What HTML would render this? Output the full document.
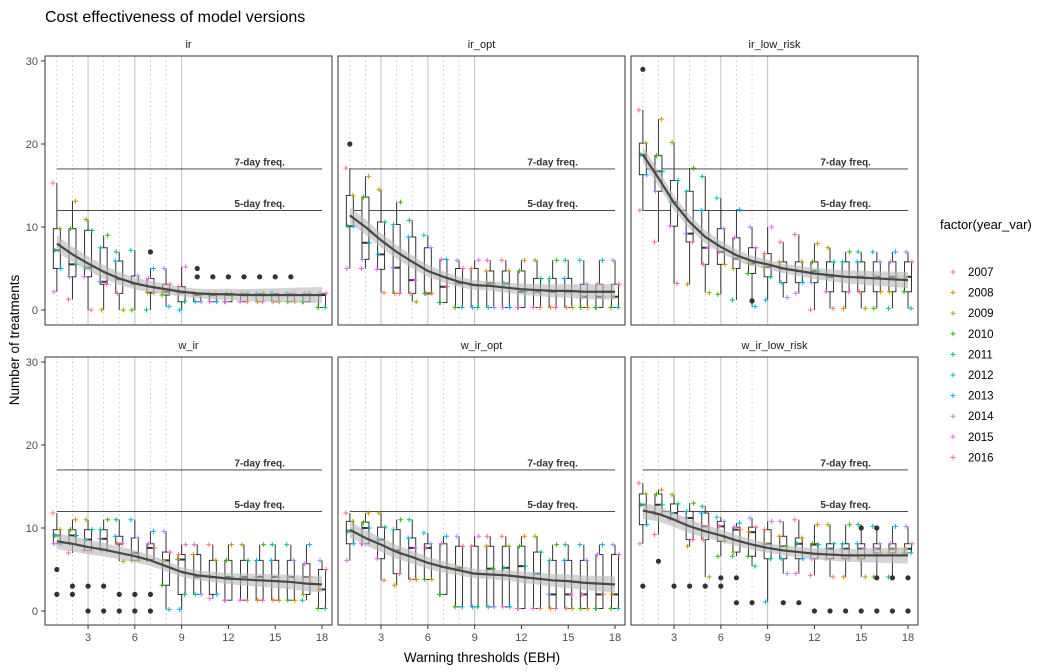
<!DOCTYPE html>
<html><head><meta charset="utf-8">
<style>
html,body{margin:0;padding:0;background:#fff;}
svg{display:block;font-family:"Liberation Sans",Arial,sans-serif;}
</style></head>
<body>
<svg id="chart" width="1056" height="672" xmlns="http://www.w3.org/2000/svg">
<text x="45" y="22" font-size="16" fill="#000">Cost effectiveness of model versions</text>
<text x="482" y="662" font-size="13.5" text-anchor="middle" fill="#000">Warning thresholds (EBH)</text>
<text x="19" y="340" font-size="13.5" text-anchor="middle" transform="rotate(-90 19 340)" fill="#000">Number of treatments</text>
<g id="legend"></g>
<g id="panels"></g>
</svg>
<script>
const NS="http://www.w3.org/2000/svg";
const panelNames=["ir","ir_opt","ir_low_risk","w_ir","w_ir_opt","w_ir_low_risk"];
const thresholds=[1,2,3,4,5,6,7,8,9,10,11,12,13,14,15,16,17,18];
const xTicks=[3,6,9,12,15,18];
const yTicks=[0,10,20,30];
const years=["2007","2008","2009","2010","2011","2012","2013","2014","2015","2016"];
const yearColors=["#F8766D","#D89000","#A3A500","#39B600","#00BF7D","#00BFC4","#00B0F6","#9590FF","#E76BF3","#FF62BC"];
const freqLevels=[17,12];
const freqLabels=["7-day freq.","5-day freq."];

const q3_ir=[9.8,9.8,9.6,7.5,5.9,4.1,3.8,3.1,2.8,2.0,2.0,2.0,2.0,2.0,2.0,2.0,2.0,2.0];
const q1_ir=[5.0,4.0,4.0,3.1,2.0,3.1,2.1,1.8,1.0,1.0,1.0,1.0,1.0,1.0,1.0,1.0,1.0,0.3];
const med_ir=[7.2,5.5,5.1,3.4,3.7,3.2,2.1,2.2,2.1,1.8,1.8,1.8,1.8,1.8,1.8,1.8,1.8,1.8];
const hi_ir=[15.3,13.1,10.9,9.0,7.0,7.2,5.0,5.0,5.2,2.0,2.0,2.0,2.0,2.0,2.0,2.0,2.0,2.0];
const lo_ir=[2.2,1.3,0,0,0,0,0,0.4,0,1.0,1.0,1.0,1.0,1.0,1.0,1.0,1.0,0.3];
const fit_ir=[8.0,6.7,5.6,4.6,3.8,3.2,2.8,2.5,2.2,2.0,1.9,1.9,1.8,1.8,1.8,1.8,1.8,1.8];
const out_ir=[[7,7],[10,5],[10,4],[11,4],[12,4],[13,4],[14,4],[15,4],[16,4]];

const q3_opt=[13.8,13.6,10.6,10.3,8.8,7.5,6.1,5.0,5.0,4.7,4.7,4.7,3.8,3.8,3.8,3.1,3.1,3.1];
const q1_opt=[10.1,6.1,4.9,2.0,2.0,2.0,0.9,0.3,0.3,0.3,0.3,0.3,0.3,0.3,0.3,0.3,0.3,0.3];
const med_opt=[10.1,8.1,6.7,5.1,3.6,2.0,2.8,3.2,3.0,3.2,3.2,2.2,2.2,2.2,2.2,1.6,1.6,1.6];
const hi_opt=[17.1,16.1,14.5,13.0,10.8,9.0,6.1,6.0,6.0,6.0,6.0,6.0,6.0,6.0,6.0,6.0,6.0,6.0];
const lo_opt=[5.0,5.0,2.1,2.0,1.0,2.0,0.9,0.3,0.3,0.3,0.3,0.3,0.3,0.3,0.3,0.3,0.3,0.3];
const fit_opt=[11.4,10.0,8.4,7.0,5.8,4.7,4.0,3.4,3.0,2.9,2.7,2.5,2.4,2.3,2.3,2.2,2.2,2.2];
const out_opt=[[1,20]];

const q3_low=[20.1,18.6,15.6,14.3,12.0,9.8,8.7,7.5,6.8,5.8,5.8,5.8,5.8,5.8,5.8,5.8,5.8,5.8];
const q1_low=[16.3,14.3,10.1,8.2,5.5,5.5,5.0,4.4,4.0,3.3,3.3,3.3,2.2,2.2,2.2,2.2,2.2,2.2];
const med_low=[18.7,16.7,13.0,9.2,7.5,7.0,6.2,5.6,5.2,5.0,4.7,4.7,4.0,4.0,4.0,4.0,4.0,4.0];
const hi_low=[24.1,23.0,20.2,17.1,16.1,13.5,12.1,10.0,10.0,8.2,9.1,8.0,7.5,7.0,7.0,7.0,7.0,7.0];
const lo_low=[12.0,8.2,3.2,3.1,2.1,1.9,1.2,0.4,1.2,1.5,2.0,0,0.2,0.2,0.2,0.2,0.2,0.2];
const fit_low=[18.7,15.9,12.9,10.6,8.8,7.6,6.6,5.9,5.5,5.0,4.7,4.4,4.2,4.0,3.9,3.8,3.7,3.6];
const out_low=[[1,29],[8,1.1]];

const q3_wir=[9.8,9.8,9.8,9.8,9.0,8.8,8.1,7.1,6.8,6.8,6.1,6.1,6.1,6.1,6.1,6.1,5.7,5.0];
const q1_wir=[8.1,8.1,7.3,7.3,8.1,6.1,6.2,3.1,2.0,2.0,2.0,1.3,1.3,1.3,1.3,1.3,2.0,0.3];
const med_wir=[9.1,9.1,8.6,8.7,8.1,7.0,7.6,6.1,6.2,4.1,4.1,4.1,4.1,4.1,4.1,4.1,4.1,2.6];
const hi_wir=[11.8,11.0,11.0,11.0,11.0,11.0,9.6,9.6,8.0,8.0,8.0,8.0,8.0,8.0,8.0,8.0,8.0,6.1];
const lo_wir=[8.1,7.0,7.3,7.3,6.0,6.1,6.2,0.2,0.2,2.0,1.5,1.3,1.3,1.3,1.3,1.3,1.3,0.3];
const fit_wir=[8.4,8.1,7.7,7.4,7.0,6.6,6.1,5.4,4.7,4.3,4.1,3.9,3.8,3.7,3.6,3.5,3.3,3.2];
const out_wir=[[1,5],[1,2],[2,3],[2,2],[3,3],[3,0],[4,3],[4,0],[5,2],[5,0],[6,2],[6,0],[7,2],[7,0]];

const q3_wopt=[10.8,10.7,10.1,9.8,8.8,8.1,8.1,7.8,7.8,7.8,7.8,7.8,7.1,6.1,6.1,6.1,6.8,6.8];
const q1_wopt=[8.1,8.1,6.3,4.5,3.8,3.8,2.0,0.5,0.5,0.5,0.5,0.3,0.3,0.3,0.3,0.3,0.3,0.3];
const med_wopt=[9.6,10.0,8.6,7.3,7.6,7.6,5.3,5.2,4.5,5.1,5.2,5.4,4.5,2.0,2.0,2.0,2.0,2.0];
const hi_wopt=[11.8,11.8,11.8,11.0,11.0,9.4,9.0,9.0,9.0,9.0,9.0,9.0,9.0,8.0,8.0,8.0,8.0,8.0];
const lo_wopt=[6.1,8.1,3.7,3.1,3.8,3.8,2.0,0.5,0.5,0.5,0.5,0.3,0.3,0.3,0.3,0.3,0.3,0.3];
const fit_wopt=[9.8,8.8,8.0,7.1,6.5,5.8,5.3,4.9,4.5,4.4,4.3,4.1,3.9,3.7,3.6,3.4,3.3,3.2];
const out_wopt=[];

const q3_wlow=[14.1,14.1,12.9,12.0,11.8,10.8,10.1,10.1,9.8,9.0,8.8,8.1,8.1,8.1,8.1,8.1,8.1,8.1];
const q1_wlow=[10.4,11.6,11.0,8.6,8.6,8.4,7.1,6.6,6.3,6.3,6.3,6.3,6.3,6.3,6.3,7.0,7.0,7.0];
const med_wlow=[12.8,12.8,11.8,11.2,10.2,10.2,9.8,9.5,8.1,7.8,8.1,8.0,7.5,7.5,7.5,7.5,7.5,7.5];
const hi_wlow=[15.4,14.6,14.0,13.0,12.6,11.3,10.6,11.2,10.8,10.8,11.0,10.4,10.4,10.4,10.4,10.2,10.2,10.2];
const lo_wlow=[8.1,9.2,11.0,7.8,4.1,6.6,6.6,5.4,1.1,4.5,4.5,4.3,4.1,4.1,4.1,4.1,4.1,7.0];
const fit_wlow=[12.1,11.7,11.0,10.2,9.6,9.1,8.5,8.0,7.6,7.3,7.1,6.9,6.8,6.7,6.7,6.7,6.7,6.7];
const out_wlow=[[1,3],[2,6],[3,3],[4,3],[5,3],[6,4],[6,3],[7,4],[7,1],[8,1],[10,1],[11,1],[12,0],[13,0],[14,0],[15,0],[16,0],[17,0],[18,0],[16,4],[17,4],[18,4],[15,10],[16,10]];

const panelData=[
 [q3_ir,q1_ir,med_ir,hi_ir,lo_ir,fit_ir,out_ir],
 [q3_opt,q1_opt,med_opt,hi_opt,lo_opt,fit_opt,out_opt],
 [q3_low,q1_low,med_low,hi_low,lo_low,fit_low,out_low],
 [q3_wir,q1_wir,med_wir,hi_wir,lo_wir,fit_wir,out_wir],
 [q3_wopt,q1_wopt,med_wopt,hi_wopt,lo_wopt,fit_wopt,out_wopt],
 [q3_wlow,q1_wlow,med_wlow,hi_wlow,lo_wlow,fit_wlow,out_wlow]
];

const root=document.getElementById('panels');
function el(tag,attrs,parent){const e=document.createElementNS(NS,tag);for(const k in attrs)e.setAttribute(k,attrs[k]);(parent||root).appendChild(e);return e;}
function cross(g,x,y,c){
  const p=el('path',{d:`M${x-2.5},${y}h5M${x},${y-2.5}v5`,stroke:c,'stroke-width':1,fill:'none'},g);
  
  
}

const PW=287, XMIN=0.24, XMAX=18.64, PX=[45,338,631], PYTOP=[56,357], PH=[269,268], Y0=[310,611], YU=8.3;
const jit=[-4,3,-2,4,-3];

panelNames.forEach((name,pi)=>{
  const col=pi%3,row=Math.floor(pi/3);
  const left=PX[col],top=PYTOP[row],h=PH[row];
  const xs=v=>left+(v-XMIN)/(XMAX-XMIN)*PW;
  const ys=v=>Y0[row]-v*YU;
  const g=el('g',{});
  
  
  const strip=el('text',{x:left+PW/2,y:top-8,'font-size':11,'text-anchor':'middle',fill:'#1a1a1a'},g);
  strip.textContent=name;
  
  
  for(let t=1;t<=9;t++){
    const gl=el('line',{x1:xs(t),x2:xs(t),y1:top,y2:top+h,stroke:'#c0c0c0','stroke-width':t%3===0?1:0.8,'stroke-dasharray':t%3===0?'none':'1.5,3'},g);
    
    
  }
  freqLevels.forEach((lv,i)=>{
    const fl=el('line',{x1:xs(1),x2:xs(18),y1:ys(lv),y2:ys(lv),stroke:'#333','stroke-width':0.9},g);
    
    
    const ft=el('text',{x:xs(14),y:ys(lv)-3.5,'font-size':10,'font-weight':'bold','text-anchor':'middle',fill:'#333'},g);
    ft.textContent=freqLabels[i];
    
    
  });
  const [q3,q1,med,hi,lo,fit,outs]=panelData[pi];
  thresholds.forEach((t,i)=>{
    const bw=7,cx=xs(t);
    const wl=el('line',{x1:cx,x2:cx,y1:ys(hi[i]),y2:ys(lo[i]),stroke:'#333','stroke-width':1},g);
    
    
    const r=el('rect',{x:cx-bw/2,y:ys(q3[i]),width:bw,height:Math.max(0.5,ys(q1[i])-ys(q3[i])),fill:'#fff',stroke:'#333','stroke-width':1},g);
    
    
    const m=el('line',{x1:cx-bw/2,x2:cx+bw/2,y1:ys(med[i]),y2:ys(med[i]),stroke:'#333','stroke-width':2},g);
    
    
    const vals=[hi[i],q3[i],med[i],q1[i],lo[i]];
    vals.forEach((v,k)=>cross(g,cx+jit[(k+i)%5],ys(v),yearColors[(k*2+i)%10]));
  });
  outs.forEach(o=>{
    const c=el('circle',{cx:xs(o[0]),cy:ys(o[1]),r:2.6,fill:'#333'},g);
    
    
  });
  const band=t=>0.55+0.05*Math.abs(t-9.5);
  let up=thresholds.map((t,i)=>xs(t)+','+ys(fit[i]+band(t)));
  let dn=thresholds.map((t,i)=>xs(t)+','+ys(Math.max(fit[i]-band(t),-1.7))).reverse();
  const rb=el('polygon',{points:up.concat(dn).join(' '),fill:'#b8b8b8','fill-opacity':0.6},g);
  
  
  const fl=el('polyline',{points:thresholds.map((t,i)=>xs(t)+','+ys(fit[i])).join(' '),fill:'none',stroke:'#474747','stroke-width':2.2,'stroke-linejoin':'round'},g);
  
  
  const b=el('rect',{x:left,y:top,width:PW,height:h,fill:'none',stroke:'#333','stroke-width':1},g);
  
  
  if(col===0){
    yTicks.forEach(v=>{
      el('line',{x1:left-4,x2:left,y1:ys(v),y2:ys(v),stroke:'#333'},g);
      const tl=el('text',{x:left-7,y:ys(v)+4,'font-size':11,'text-anchor':'end',fill:'#4d4d4d'},g);
      tl.textContent=v;
      
      
    });
  }
  if(row===1){
    xTicks.forEach(v=>{
      el('line',{x1:xs(v),x2:xs(v),y1:top+h,y2:top+h+4,stroke:'#333'},g);
      const tl=el('text',{x:xs(v),y:top+h+16,'font-size':11,'text-anchor':'middle',fill:'#4d4d4d'},g);
      tl.textContent=v;
      
      
    });
  }
});

const lg=document.getElementById('legend');
const lt=el('text',{x:940,y:229,'font-size':13,fill:'#000'},lg);
lt.textContent='factor(year_var)';


years.forEach((yr,i)=>{
  const y=272+i*20.6;
  const e=el('g',{},lg);
  
  
  el('line',{x1:950.5,x2:955.5,y1:y,y2:y,stroke:yearColors[i],'stroke-width':1},e);
  el('line',{x1:953,x2:953,y1:y-2.5,y2:y+2.5,stroke:yearColors[i],'stroke-width':1},e);
  const t=el('text',{x:968,y:y+4,'font-size':11.5,fill:'#000'},e);
  t.textContent=yr;
});
</script>
</body></html>
